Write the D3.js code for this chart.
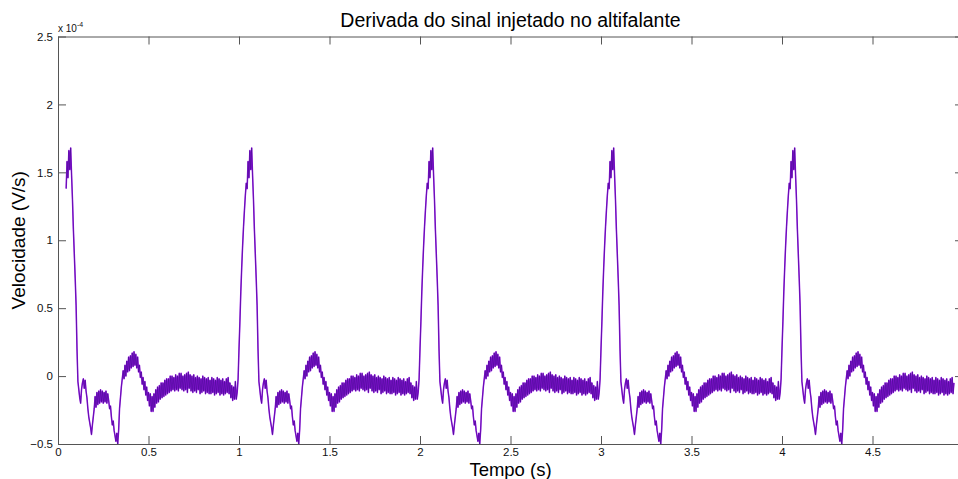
<!DOCTYPE html>
<html>
<head>
<meta charset="utf-8">
<script src="https://cdn.jsdelivr.net/npm/d3@7"></script>
<style>
  body { margin: 0; background: #fff; }
  svg { display: block; font-family: "Liberation Sans", Arial, Helvetica, sans-serif; }
  .axis path, .axis line { stroke: #555; }
  .axis text { fill: #111; font-size: 11.5px; }
</style>
</head>
<body>
<svg width="958" height="479"></svg>
<script>
// one period of the signal (phase step 0.005 s), units of 1e-4 V/s
const phaseStep = 0.005;
const cycleValues = [
  0.20, 0.40, 0.62, 0.80, 0.96, 1.10, 1.22, 1.33, 1.42, 1.38,
  1.58, 1.46, 1.66, 1.52, 1.68, 1.48, 1.30, 1.08, 0.90, 0.72,
  0.52, 0.20, -0.04, -0.10, -0.16, -0.20, -0.10, -0.05, -0.02, -0.09,
  -0.03, -0.11, -0.16, -0.24, -0.30, -0.34, -0.38, -0.43, -0.36, -0.30,
  -0.24, -0.15, -0.23, -0.12, -0.21, -0.11, -0.20, -0.10, -0.19, -0.11,
  -0.20, -0.12, -0.19, -0.11, -0.20, -0.13, -0.18, -0.24, -0.22, -0.30,
  -0.36, -0.33, -0.40, -0.44, -0.48, -0.42, -0.50, -0.40, -0.24, -0.16,
  -0.08, -0.02, 0.04, -0.02, 0.08, 0.00, 0.11, 0.03, 0.14, 0.04,
  0.15, 0.06, 0.17, 0.07, 0.18, 0.08, 0.16, 0.06, 0.14, 0.03,
  0.08, -0.01, 0.03, -0.06, -0.01, -0.10, -0.04, -0.14, -0.08, -0.18,
  -0.12, -0.22, -0.13, -0.26, -0.15, -0.26, -0.13, -0.23, -0.10, -0.20,
  -0.08, -0.19, -0.07, -0.17, -0.05, -0.16, -0.05, -0.15, -0.03, -0.14,
  -0.02, -0.13, -0.02, -0.12, 0.00, -0.11, 0.00, -0.10, -0.01, -0.11,
  0.01, -0.10, 0.00, -0.11, 0.02, -0.09, 0.02, -0.10, 0.00, -0.11,
  0.01, -0.10, 0.02, -0.12, 0.03, -0.09, 0.01, -0.11, 0.00, -0.12,
  0.01, -0.11, -0.01, -0.12, 0.00, -0.10, -0.01, -0.13, -0.02, -0.12,
  0.00, -0.11, -0.01, -0.13, -0.02, -0.12, -0.01, -0.13, -0.03, -0.13,
  -0.01, -0.12, -0.02, -0.14, -0.03, -0.13, -0.01, -0.12, -0.02, -0.14,
  -0.03, -0.13, -0.02, -0.14, -0.04, -0.13, -0.02, -0.12, -0.01, -0.13,
  -0.05, -0.16, -0.07, -0.18, -0.08, -0.17, -0.04, -0.17, -0.12, -0.02
];
const cycleStarts = [0, 1, 2, 3, 4];
const tStart = 0.045, tEnd = 4.95;
const xTicks = [0, 0.5, 1, 1.5, 2, 2.5, 3, 3.5, 4, 4.5];
const yTicks = [-0.5, 0, 0.5, 1, 1.5, 2, 2.5];

const series = [];
cycleStarts.forEach(c => {
  cycleValues.forEach((v, i) => {
    const t = +(c + i * phaseStep).toFixed(4);
    if (t >= tStart - 1e-9 && t <= tEnd + 1e-9) series.push({ t, v });
  });
});

const svg = d3.select("svg");
const m = { left: 58, top: 36.5, right: 963, bottom: 444 };
const x = d3.scaleLinear().domain([0, 5]).range([m.left, m.right]);
const y = d3.scaleLinear().domain([-0.5, 2.5]).range([m.bottom, m.top]);

const line = d3.line().x(d => x(d.t)).y(d => y(d.v));

svg.append("path").datum(series)
  .attr("d", line).attr("fill", "none")
  .attr("stroke", "#9312e2").attr("stroke-width", 1.5)
  .attr("stroke-linejoin", "round");
svg.append("path").datum(series)
  .attr("d", line).attr("fill", "none")
  .attr("stroke", "#3a0c82").attr("stroke-width", 0.5);

// axes box with inward ticks
svg.append("g").attr("class", "axis")
  .attr("transform", `translate(0,${m.bottom})`)
  .call(d3.axisBottom(x).tickValues(xTicks).tickSizeInner(-8).tickSizeOuter(0).tickPadding(4).tickFormat(d3.format("")));
svg.append("g").attr("class", "axis")
  .attr("transform", `translate(0,${m.top})`)
  .call(d3.axisTop(x).tickValues(xTicks).tickSizeInner(-8).tickSizeOuter(0).tickFormat(""));
svg.append("g").attr("class", "axis")
  .attr("transform", `translate(${m.left},0)`)
  .call(d3.axisLeft(y).tickValues(yTicks).tickSizeInner(-8).tickSizeOuter(0).tickPadding(5).tickFormat(d3.format("")));
svg.append("g").attr("class", "axis")
  .attr("transform", `translate(${m.right},0)`)
  .call(d3.axisRight(y).tickValues(yTicks).tickSizeInner(-8).tickSizeOuter(0).tickFormat(""));

// exponent label
const ex = svg.append("text").attr("x", m.left).attr("y", 32).attr("font-size", 10).attr("fill", "#111");
ex.append("tspan").text("x 10");
ex.append("tspan").attr("dy", -5).attr("font-size", 7).text("-4");

svg.append("text").attr("x", (m.left + m.right) / 2).attr("y", 27)
  .attr("text-anchor", "middle").attr("font-size", 19.5).attr("fill", "#000")
  .text("Derivada do sinal injetado no altifalante");

svg.append("text").attr("x", (m.left + m.right) / 2).attr("y", 476)
  .attr("text-anchor", "middle").attr("font-size", 18.5).attr("fill", "#000")
  .text("Tempo (s)");

svg.append("text")
  .attr("transform", `translate(25,${(m.top + m.bottom) / 2}) rotate(-90)`)
  .attr("text-anchor", "middle").attr("font-size", 19).attr("fill", "#000")
  .text("Velocidade (V/s)");
</script>
</body>
</html>
